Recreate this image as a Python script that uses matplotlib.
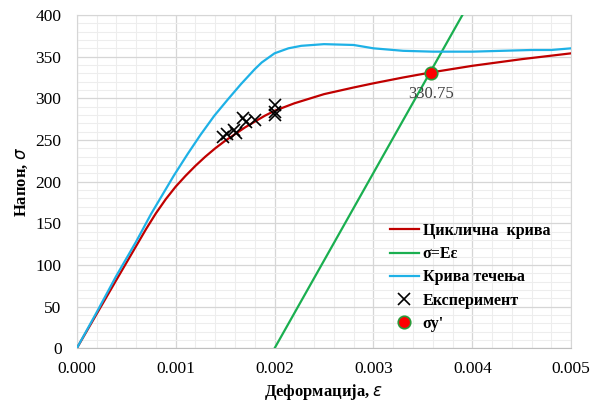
import numpy as np
import matplotlib.pyplot as plt
from matplotlib.ticker import MultipleLocator, FormatStrFormatter

plt.rcParams['font.family'] = ['Liberation Serif', 'DejaVu Serif']

# циклична крива
cyc_eps = [0.0, 0.0004, 0.0007, 0.0008, 0.0009, 0.001, 0.0011, 0.0012, 0.0013, 0.0014,
           0.0015, 0.0016, 0.0017, 0.0018, 0.0019, 0.002, 0.0022, 0.0025, 0.0028, 0.003,
           0.0033, 0.00358, 0.004, 0.0045, 0.005]
cyc_sig = [0, 82, 143, 162, 179, 194, 207, 219, 230, 240,
           249, 257, 265, 272, 279, 285, 294, 305, 313, 318,
           325, 331, 339, 347, 354]

# σ=Eε (помјерена права)
el_eps = [0.002, 0.0039]
el_sig = [0, 400]

# крива течења
flow_eps = [0.0, 0.0002, 0.0004, 0.0006, 0.00075, 0.00085, 0.00098, 0.00112, 0.00125, 0.00139,
            0.00153, 0.00166, 0.0018, 0.00187, 0.002, 0.00214, 0.00227, 0.0025, 0.0028, 0.003,
            0.0033, 0.0036, 0.004, 0.0043, 0.0046, 0.0048, 0.005]
flow_sig = [0, 43, 87, 128, 161, 181, 207, 233, 256, 279,
            299, 317, 335, 343, 354, 360, 363, 365, 364, 360,
            357, 356, 356, 357, 358, 358, 360]

# експеримент
exp_eps = [0.00148, 0.00152, 0.00159, 0.00161, 0.00168, 0.00171, 0.0018, 0.002, 0.002, 0.002]
exp_sig = [254, 257, 262, 258, 276, 272, 274, 292, 280, 283]

sy_eps = 0.003584
sy_val = 330.75

fig = plt.figure(figsize=(6, 4.05), dpi=100)
ax = fig.add_axes([0.128, 0.14, 0.824, 0.823])

ax.plot(cyc_eps, cyc_sig, color='#c00000', lw=1.6, label='Циклична  крива', zorder=3)
ax.plot(el_eps, el_sig, color='#1aaf50', lw=1.6, label='σ=Eε', zorder=3)
ax.plot(flow_eps, flow_sig, color='#1eb1e6', lw=1.6, label='Крива течења', zorder=3)
ax.plot(exp_eps, exp_sig, 'x', color='black', ms=9, mew=1.2, label='Експеримент', zorder=4)
ax.plot([sy_eps], [sy_val], 'o', color='#ff0000', mec='#2a9a3a', ms=9, mew=1.2,
        label="σy'", zorder=5)
ax.text(sy_eps, sy_val - 26, '330.75', ha='center', va='center', fontsize=12, color='#404040')

ax.set_xlim(0, 0.005)
ax.set_ylim(0, 400)
ax.xaxis.set_major_locator(MultipleLocator(0.001))
ax.xaxis.set_minor_locator(MultipleLocator(0.0002))
ax.yaxis.set_major_locator(MultipleLocator(50))
ax.yaxis.set_minor_locator(MultipleLocator(10))
ax.xaxis.set_major_formatter(FormatStrFormatter('%.3f'))
ax.grid(True, which='major', color='#d6d6d6', lw=0.9)
ax.grid(True, which='minor', color='#ededed', lw=0.8)
ax.set_axisbelow(True)
ax.tick_params(which='both', length=0, labelsize=12.5)
ax.tick_params(axis='x', pad=9)
ax.tick_params(axis='y', pad=11)
for s in ax.spines.values():
    s.set_color('#d6d6d6')
ax.spines['bottom'].set_color('#bfbfbf')

ax.set_xlabel('Деформација, $\\it{ε}$', fontsize=12, fontweight='bold', labelpad=4)
ax.set_ylabel('Напон, $\\it{σ}$', fontsize=12, fontweight='bold', labelpad=4)

leg = ax.legend(loc='upper left', bbox_to_anchor=(390 / 600, 1 - 223 / 405),
                bbox_transform=fig.transFigure, frameon=False, borderpad=0,
                borderaxespad=0, prop={'weight': 'bold', 'size': 11.5},
                handlelength=1.8, handletextpad=0.25, labelspacing=0.45)

fig.savefig('out.png', dpi=100)
